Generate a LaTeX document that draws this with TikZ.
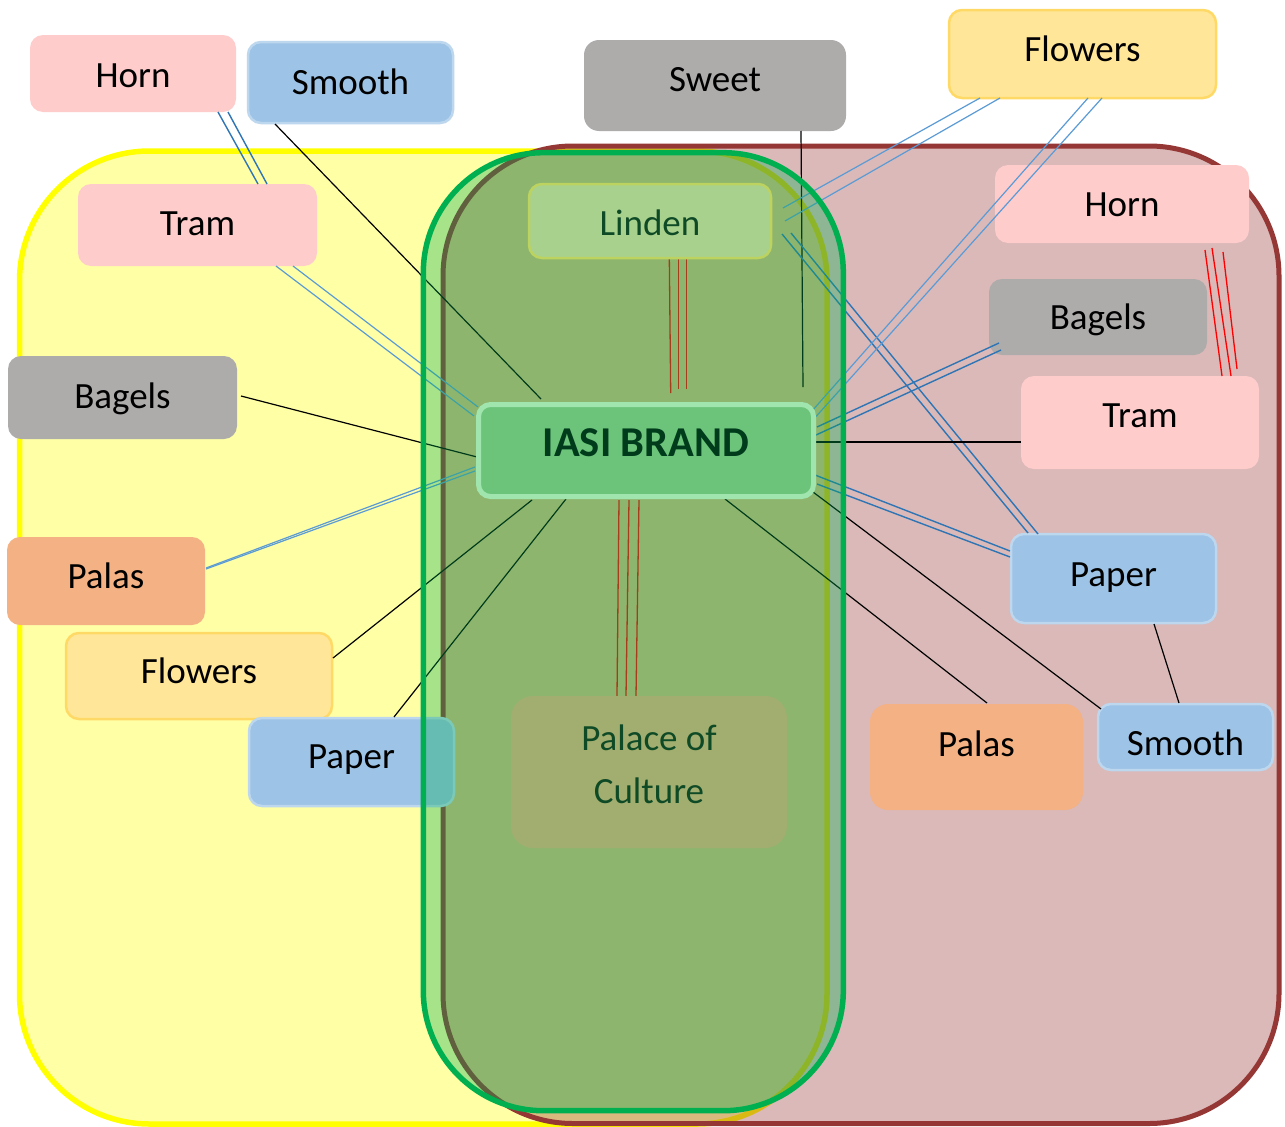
\documentclass[tikz,border=0pt]{standalone}
\usepackage{fontspec}
\setmainfont{Carlito}
\usetikzlibrary{calc}
\definecolor{ylwfill}{HTML}{FFFFA6}
\definecolor{ylwline}{HTML}{FFFF00}
\definecolor{redc}{HTML}{953735}
\definecolor{grnc}{HTML}{00B050}
\definecolor{pinkc}{HTML}{FFCCCC}
\definecolor{bluec}{HTML}{9DC3E6}
\definecolor{blueline}{HTML}{BDD7EE}
\definecolor{grayc}{HTML}{AEABAB}
\definecolor{orangec}{HTML}{F4B183}
\definecolor{flwc}{HTML}{FFE699}
\definecolor{flwline}{HTML}{FFD966}
\definecolor{lindc}{HTML}{A9D18E}
\definecolor{lindline}{HTML}{BCD35F}
\definecolor{iasic}{HTML}{6CC47A}
\definecolor{iasiline}{HTML}{A0E4AE}
\definecolor{palc}{HTML}{A2AE6F}
\definecolor{dgreen}{HTML}{0F4A26}
\definecolor{iasitext}{HTML}{003B1C}
\definecolor{dblue}{HTML}{2E75B6}
\definecolor{lblue}{HTML}{5B9BD5}
\definecolor{redl}{HTML}{FF0000}
\pgfdeclarelayer{bg}
\pgfdeclarelayer{lower}
\pgfdeclarelayer{conn}
\pgfdeclarelayer{glayer}
\pgfsetlayers{bg,lower,conn,glayer,main}
\begin{document}
\begin{tikzpicture}[x=1pt,y=-1pt,
  box/.style={rectangle, rounded corners=13pt, inner sep=0pt, font=\fontsize{37}{44}\selectfont, text depth=0pt},
  bl/.style={text height=#1pt},
  pinkbox/.style={box, fill=pinkc},
  bluebox/.style={box, fill=bluec, draw=blueline, line width=2.5pt},
  graybox/.style={box, fill=grayc},
  orangebox/.style={box, fill=orangec},
  flwbox/.style={box, fill=flwc, draw=flwline, line width=2.5pt},
  dconn/.style={draw=dblue, line width=1.4pt},
  lconn/.style={draw=lblue, line width=1.2pt},
  kconn/.style={draw=black, line width=1.2pt},
  rconn/.style={draw=redl, line width=1.3pt},
]
\useasboundingbox (0,0) rectangle (1285,1127);

\begin{pgfonlayer}{bg}
\fill[white] (0,0) rectangle (1285,1127);
\draw[fill=ylwfill, draw=ylwline, line width=5.5pt, rounded corners=130pt] (19.5,151) rectangle (827,1124);
\fill[redc, fill opacity=0.35, rounded corners=130pt] (443,146) rectangle (1279,1123.5);
\draw[redc, line width=5pt, rounded corners=130pt] (443,146) rectangle (1279,1123.5);
\end{pgfonlayer}

\begin{pgfonlayer}{glayer}
\fill[grnc, fill opacity=0.344, rounded corners=120pt] (423.3,152.7) rectangle (843.3,1110.7);
\draw[grnc, line width=5.5pt, rounded corners=120pt] (423.3,152.7) rectangle (843.3,1110.7);
\end{pgfonlayer}

\begin{pgfonlayer}{lower}
\node[pinkbox, minimum width=206pt, minimum height=77pt, bl=27.6] (hornL) at (133,73.5) {Horn};
\node[bluebox, minimum width=205pt, minimum height=81pt, bl=23] (smoothL) at (350.5,82.5) {Smooth};
\node[pinkbox, minimum width=239pt, minimum height=82pt, bl=21.4] (tramL) at (197.5,225) {Tram};
\node[graybox, minimum width=229pt, minimum height=83pt, bl=21.6] (bagelsL) at (122.5,397.5) {Bagels};
\node[orangebox, minimum width=198pt, minimum height=88pt, bl=15.4] (palasL) at (106,581) {Palas};
\node[flwbox, minimum width=266pt, minimum height=86pt, bl=14.6] (flowersL) at (199,676) {Flowers};
\node[bluebox, minimum width=205pt, minimum height=88pt, bl=12.6] (paperL) at (351.5,762) {Paper};
\node[graybox, minimum width=262pt, minimum height=91pt, bl=12, rounded corners=15pt] (sweet) at (715,85.5) {Sweet};
\node[flwbox, minimum width=267pt, minimum height=88pt, bl=15.4] (flowersR) at (1082.5,54) {Flowers};
\node[pinkbox, minimum width=254pt, minimum height=78pt, bl=25.4] (hornR) at (1122,204) {Horn};
\node[graybox, minimum width=218pt, minimum height=76pt, bl=24] (bagelsR) at (1098,317) {Bagels};
\node[pinkbox, minimum width=238pt, minimum height=93pt, bl=10.4] (tramR) at (1140,422.5) {Tram};
\node[bluebox, minimum width=205pt, minimum height=89pt, bl=15] (paperR) at (1113.5,578.5) {Paper};
\node[orangebox, minimum width=213pt, minimum height=106pt, text height=0pt, text depth=2pt, rounded corners=18pt] (palasR) at (976.5,757) {Palas};
\node[bluebox, minimum width=175pt, minimum height=66pt, bl=36] (smoothR) at (1185.5,737) {Smooth};
\end{pgfonlayer}

\node[box, fill=lindc, draw=lindline, line width=2.5pt, text=dgreen, minimum width=242pt, minimum height=74pt, bl=28] (linden) at (650,221) {Linden};
\node[box, fill=iasic, draw=iasiline, line width=5pt, rounded corners=12pt, text=iasitext, font=\fontsize{42.5}{51}\selectfont\bfseries, minimum width=335pt, minimum height=92pt, bl=11] (iasi) at (646,450.5) {IASI BRAND};
\node[box, fill=palc, rounded corners=22pt, text=dgreen, minimum width=276pt, minimum height=152pt, text height=0pt, text depth=44pt] (palace) at (649,772) {\renewcommand\arraystretch{1}\fontsize{37}{53}\selectfont\begin{tabular}[t]{@{}c@{}}Palace of\\Culture\end{tabular}};

\begin{pgfonlayer}{conn}
% left side
\draw[dconn] ($(hornL)+(85,38.5)$) -- ($(tramL)+(60.5,-41)$);
\draw[dconn] ($(hornL)+(95,38.5)$) -- ($(tramL)+(69.5,-41)$);
\draw[lconn] ($(tramL)+(95.5,41)$) -- ($(iasi)+(-168,-43.5)$);
\draw[lconn] ($(tramL)+(78.5,41)$) -- ($(iasi)+(-172,-34.5)$);
\draw[kconn] ($(smoothL)+(-75.5,41.5)$) -- ($(iasi)+(-105,-51.5)$);
\draw[kconn] ($(bagelsL)+(118.5,-1.5)$) -- ($(iasi)+(-169,6.5)$);
\draw[lconn] ($(palasL)+(100,-13)$) -- ($(iasi)+(-171,16.5)$);
\draw[lconn] ($(palasL)+(100,-12)$) -- ($(iasi)+(-171,20.5)$);
\draw[kconn] ($(flowersL)+(134,-18)$) -- ($(iasi)+(-114,49.5)$);
\draw[kconn] ($(paperL)+(42.5,-45)$) -- ($(iasi)+(-80,48.5)$);
% centre
\draw[rconn] ($(linden)+(19.3,37)$) -- ($(iasi)+(24.7,-57.5)$);
\draw[rconn] ($(linden)+(28.7,37)$) -- ($(iasi)+(32.7,-61.5)$);
\draw[rconn] ($(linden)+(36.7,37)$) -- ($(iasi)+(40.7,-61.5)$);
\draw[rconn] ($(iasi)+(-27,49.5)$) -- ($(palace)+(-32,-76)$);
\draw[rconn] ($(iasi)+(-17,49.5)$) -- ($(palace)+(-23,-76)$);
\draw[rconn] ($(iasi)+(-7,49.5)$) -- ($(palace)+(-13,-76)$);
\draw[kconn] ($(sweet)+(86,45.5)$) -- ($(iasi)+(157,-63.5)$);
% right side
\draw[lconn] ($(linden)+(133,-13)$) -- ($(flowersR)+(-102.5,44)$);
\draw[lconn] ($(linden)+(135,0)$) -- ($(flowersR)+(-82.5,44)$);
\draw[dconn] ($(linden)+(132,13)$) -- ($(paperR)+(-85.5,-45.5)$);
\draw[dconn] ($(linden)+(141,12)$) -- ($(paperR)+(-75.5,-44.5)$);
\draw[lconn] ($(iasi)+(166,-39.5)$) -- ($(flowersR)+(5.5,44)$);
\draw[lconn] ($(iasi)+(166,-29.5)$) -- ($(flowersR)+(19.5,44)$);
\draw[dconn] ($(iasi)+(171,-23.5)$) -- ($(bagelsR)+(-99,26)$);
\draw[dconn] ($(iasi)+(170,-15.5)$) -- ($(bagelsR)+(-97,33)$);
\draw[kconn] ($(iasi)+(170,-8.5)$) -- ($(tramR)+(-119,19.5)$);
\draw[dconn] ($(iasi)+(169,24.5)$) -- ($(paperR)+(-103.5,-27.5)$);
\draw[dconn] ($(iasi)+(171,33.5)$) -- ($(paperR)+(-103.5,-21.5)$);
\draw[kconn] ($(iasi)+(167,41.5)$) -- ($(smoothR)+(-84.5,-28)$);
\draw[kconn] ($(iasi)+(79,48.5)$) -- ($(palasR)+(10.5,-54)$);
\draw[kconn] ($(paperR)+(40.5,45.5)$) -- ($(smoothR)+(-6.5,-34)$);
\draw[rconn] ($(hornR)+(83,46)$) -- ($(tramR)+(82,-46.5)$);
\draw[rconn] ($(hornR)+(90,44)$) -- ($(tramR)+(91,-46.5)$);
\draw[rconn] ($(hornR)+(101,48)$) -- ($(tramR)+(97,-53.5)$);
\end{pgfonlayer}
\end{tikzpicture}
\end{document}
